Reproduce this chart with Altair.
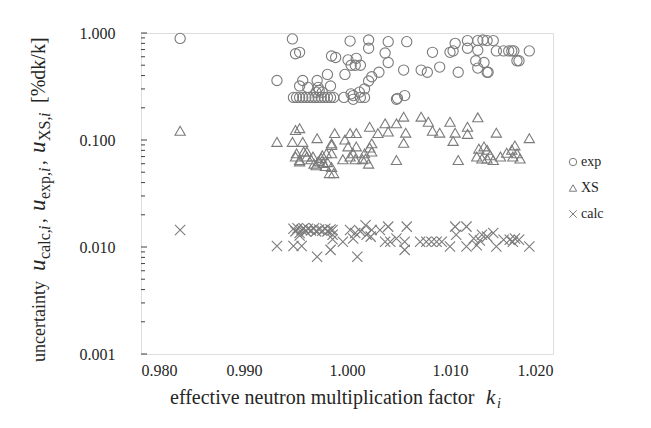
import altair as alt
import pandas as pd

# ---------------- data ----------------
series_names = ["exp", "XS", "calc"]

exp_k = [0.9838, 0.9932, 0.9947, 0.9950, 0.9954, 0.9985, 0.9989, 0.9957, 0.9954, 0.9962,
         0.9971, 0.9972, 0.9981, 0.9984,
         0.9948, 0.9951, 0.9954, 0.9957, 0.9960, 0.9963, 0.9966, 0.9969, 0.9972, 0.9975,
         0.9978, 0.9981, 0.9984, 0.9987,
         0.9970, 0.9973, 0.9976,
         0.9997, 1.0004, 1.0006, 1.0006, 1.0012, 1.0013, 1.0017, 1.0017, 1.0021, 1.0024,
         1.0031, 0.9998, 1.0003, 1.0021, 1.0021, 1.0001, 1.0004, 1.0009, 1.0008, 1.0013,
         1.0040, 1.0058, 1.0037, 1.0040, 1.0055, 1.0072, 1.0078, 1.0090, 1.0108, 1.0083,
         1.0100, 1.0103, 1.0105, 1.0117, 1.0117, 1.0127, 1.0132, 1.0136, 1.0142, 1.0127,
         1.0125, 1.0133, 1.0127, 1.0136, 1.0137, 1.0145, 1.0152, 1.0157, 1.0160, 1.0162,
         1.0165, 1.0167, 1.0177, 1.0048, 1.0049, 1.0056]
exp_u = [0.89, 0.36, 0.88, 0.64, 0.66, 0.61, 0.59, 0.36, 0.32, 0.31,
         0.36, 0.31, 0.41, 0.32,
         0.25, 0.25, 0.25, 0.25, 0.25, 0.25, 0.25, 0.25, 0.25, 0.25,
         0.25, 0.25, 0.25, 0.25,
         0.28, 0.29, 0.28,
         0.25, 0.27, 0.24, 0.26, 0.28, 0.25, 0.30, 0.25, 0.356, 0.39,
         0.43, 0.41, 0.84, 0.86, 0.72, 0.56, 0.50, 0.58, 0.50, 0.50,
         0.83, 0.83, 0.65, 0.53, 0.45, 0.45, 0.43, 0.48, 0.43, 0.66,
         0.66, 0.68, 0.80, 0.85, 0.72, 0.85, 0.86, 0.85, 0.85, 0.69,
         0.55, 0.53, 0.47, 0.43, 0.43, 0.68, 0.68, 0.68, 0.68, 0.68,
         0.55, 0.55, 0.68, 0.24, 0.245, 0.26]

xs_k = [0.9838, 0.9932, 0.9947, 0.9950, 0.9954, 0.9957, 0.9971, 0.9950, 0.9954, 0.9961,
        0.9967, 0.9972, 0.9951, 0.9958, 0.9954, 0.9961,
        0.9965, 0.9968, 0.9970, 0.9973, 0.9975, 0.9977, 0.9979, 0.9981, 0.9976, 0.9980,
        0.9983, 0.9985, 0.9985, 0.9985, 0.9987, 0.9988, 0.9985, 0.9998, 1.0003, 1.0009,
        0.9996, 1.0003, 1.0008, 1.0001, 1.0009, 1.0006, 1.0017, 1.0022, 1.0030, 1.0024,
        1.0022, 1.0024, 1.0018, 1.0021, 1.0015, 1.0037, 1.0040, 1.0048, 1.0055, 1.0057,
        1.0055, 1.0048, 1.0072, 1.0079, 1.0083, 1.0090, 1.0100, 1.0105, 1.0103, 1.0117,
        1.0117, 1.0127, 1.0108, 1.0145, 1.0177,
        1.0128, 1.0133, 1.0136, 1.0139, 1.0126, 1.0131, 1.0136, 1.0142, 1.0149, 1.0155,
        1.0160, 1.0163, 1.0165, 1.0168, 1.0161]
xs_u = [0.122, 0.096, 0.096, 0.124, 0.129, 0.096, 0.104, 0.070, 0.063, 0.078,
        0.070, 0.063, 0.075, 0.078, 0.065, 0.070,
        0.066, 0.060, 0.058, 0.064, 0.068, 0.061, 0.057, 0.062, 0.072, 0.075,
        0.049, 0.090, 0.075, 0.056, 0.049, 0.116, 0.093, 0.101, 0.116, 0.116,
        0.066, 0.070, 0.066, 0.087, 0.087, 0.075, 0.075, 0.133, 0.116, 0.093,
        0.085, 0.078, 0.067, 0.060, 0.066, 0.143, 0.120, 0.143, 0.165, 0.117,
        0.094, 0.065, 0.165, 0.148, 0.122, 0.117, 0.148, 0.117, 0.098, 0.133,
        0.114, 0.163, 0.065, 0.117, 0.104,
        0.083, 0.087, 0.081, 0.072, 0.070, 0.067, 0.067, 0.065, 0.070, 0.076,
        0.081, 0.089, 0.075, 0.067, 0.070]

calc_k = [0.9838, 0.9932, 0.9948, 0.9956, 0.9971, 0.9984,
          0.9948, 0.9950, 0.9952, 0.9954, 0.9956, 0.9958, 0.9960, 0.9962, 0.9965, 0.9968,
          0.9970, 0.9973, 0.9976, 0.9979, 0.9981, 0.9984, 0.9954, 0.9986, 0.9986, 0.9986,
          0.9996, 1.0003, 1.0008, 1.0006, 1.0013, 1.0018, 1.0019, 1.0024, 1.0023, 1.0032,
          1.0010, 1.0040, 1.0058, 1.0037, 1.0042, 1.0048, 1.0056, 1.0056,
          1.0071, 1.0077, 1.0082, 1.0087, 1.0092, 1.0105, 1.0116, 1.0106, 1.0100, 1.0116,
          1.0126, 1.0123, 1.0131, 1.0136, 1.0142, 1.0129, 1.0145, 1.0152, 1.0158, 1.0163,
          1.0167, 1.0161, 1.0177]
calc_u = [0.0144, 0.0102, 0.0102, 0.0102, 0.0081, 0.0094,
          0.0148, 0.0140, 0.0150, 0.0135, 0.0145, 0.0150, 0.0140, 0.0148, 0.0143, 0.0150,
          0.0140, 0.0146, 0.0142, 0.0148, 0.0140, 0.0146, 0.0128, 0.0130, 0.0144, 0.0118,
          0.0112, 0.0144, 0.0135, 0.0120, 0.0140, 0.0160, 0.0130, 0.0144, 0.0125, 0.0144,
          0.0081, 0.0155, 0.0155, 0.0112, 0.0112, 0.0120, 0.0112, 0.0094,
          0.0112, 0.0112, 0.0112, 0.0112, 0.0112, 0.0155, 0.0155, 0.0130, 0.0101, 0.0101,
          0.0104, 0.0120, 0.0130, 0.0125, 0.0135, 0.0115, 0.0101, 0.0117, 0.0117, 0.0120,
          0.0117, 0.0112, 0.0101]

x_tick_values = [0.980, 0.990, 1.000, 1.010, 1.020]
y_tick_values = [0.001, 0.010, 0.100, 1.000]
y_minor_values = [0.002, 0.003, 0.004, 0.005, 0.006, 0.007, 0.008, 0.009,
                  0.02, 0.03, 0.04, 0.05, 0.06, 0.07, 0.08, 0.09,
                  0.2, 0.3, 0.4, 0.5, 0.6, 0.7, 0.8, 0.9]

# ---------------- tables ----------------
df = pd.concat([
    pd.DataFrame({"k": exp_k, "u": exp_u, "series": "exp"}),
    pd.DataFrame({"k": xs_k, "u": xs_u, "series": "XS"}),
    pd.DataFrame({"k": calc_k, "u": calc_u, "series": "calc"}),
], ignore_index=True)

FONT = "Liberation Serif"
GRAY = "#7b7b7b"
TXT = "#262626"
X_PATH = "M-1,-1L1,1M-1,1L1,-1"

W, H = 412, 321

xscale = alt.Scale(domain=[0.98, 1.02], nice=False, zero=False)
yscale = alt.Scale(type="log", domain=[0.001, 1], nice=False)
xaxis = alt.Axis(values=x_tick_values, format=".3f", title=None, ticks=False,
                 grid=False, domain=False, labelPadding=8, labelFont=FONT,
                 labelFontSize=16, labelColor=TXT)
yaxis = alt.Axis(values=y_tick_values, format=".3f", title=None, ticks=False,
                 grid=False, domain=False, labelPadding=26, labelFont=FONT,
                 labelFontSize=16, labelColor=TXT)

points = alt.Chart(df).mark_point(filled=False, strokeWidth=1.1, opacity=1, size=105).encode(
    x=alt.X("k:Q", scale=xscale, axis=xaxis),
    y=alt.Y("u:Q", scale=yscale, axis=yaxis),
    shape=alt.Shape("series:N",
                    scale=alt.Scale(domain=series_names,
                                    range=["circle", "triangle-up", X_PATH]),
                    legend=alt.Legend(title=" ", titleFontSize=8, titlePadding=114,
                                      orient="right", offset=13,
                                      labelFont=FONT, labelFontSize=14, labelColor=TXT,
                                      symbolSize=55, symbolStrokeColor=GRAY,
                                      symbolStrokeWidth=1, symbolType="circle",
                                      labelOffset=1, rowPadding=12, padding=0)),
    color=alt.value(GRAY),
)

major_ticks = alt.Chart(pd.DataFrame({"u": y_tick_values})).mark_rule(
    color="#404040", strokeWidth=1).encode(
    y=alt.Y("u:Q", scale=yscale, axis=yaxis), x=alt.value(0), x2=alt.value(6))
minor_ticks = alt.Chart(pd.DataFrame({"u": y_minor_values})).mark_rule(
    color="#404040", strokeWidth=1).encode(
    y=alt.Y("u:Q", scale=yscale, axis=yaxis), x=alt.value(0), x2=alt.value(4))


def label(text, x, y, size, style="normal", angle=0, align="left", baseline="alphabetic"):
    return alt.Chart(pd.DataFrame({"t": [text]})).mark_text(
        font=FONT, fontSize=size, fontStyle=style, angle=angle, align=align,
        baseline=baseline, color=TXT).encode(
        text="t:N", x=alt.value(x), y=alt.value(y))


# x-axis title pieces (pixel positions relative to plot origin)
x_title = [
    label("effective neutron multiplication factor", 29, 371, 20),
    label("k", 345, 371, 21, "italic"),
    label("i", 356, 375, 14, "italic"),
]

# y-axis title pieces, rotated, reading bottom to top
YB, YS = -96, -91
y_title = [
    label("uncertainty", YB, 329, 18, angle=270),
    label("u", YB, 238, 23, "italic", angle=270),
    label("calc,", YS, 226, 16, angle=270),
    label("i", YS, 197, 16, "italic", angle=270),
    label(",", YB, 190, 19, angle=270),
    label("u", YB, 178, 23, "italic", angle=270),
    label("exp,", YS, 166, 16, angle=270),
    label("i", YS, 139, 16, "italic", angle=270),
    label(",", YB, 132, 19, angle=270),
    label("u", YB, 120, 23, "italic", angle=270),
    label("XS,", YS, 108, 16, angle=270),
    label("i", YS, 84, 16, "italic", angle=270),
    label("[%dk/k]", YB, 70, 20, angle=270),
]

chart = alt.layer(points, major_ticks, minor_ticks, *x_title, *y_title).properties(
    width=W, height=H,
    autosize=alt.AutoSizeParams(type="none"),
    padding={"left": 133, "top": 25, "right": 88, "bottom": 62},
).configure_view(
    stroke="#3a3a3a", strokeWidth=1.2
).configure(background="white")

chart.save("out.html", embed_options={"renderer": "svg", "actions": False})
